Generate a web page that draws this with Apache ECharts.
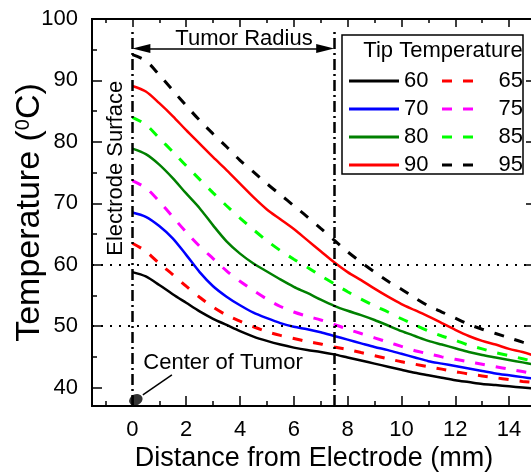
<!DOCTYPE html>
<html><head><meta charset="utf-8">
<script src="https://cdn.jsdelivr.net/npm/echarts@6/dist/echarts.min.js"></script>
<style>html,body{margin:0;padding:0;background:#fff}#c{width:531px;height:476px}</style>
</head><body><div id="c"></div>
<script>
// Distance from electrode (mm)
const distances = [0,0.5,1,1.5,2,2.5,3,3.5,4,4.5,5,5.5,6,6.5,7,7.5,8,8.5,9,9.5,10,10.5,11,11.5,12,12.5,13,13.5,14,14.5,15];
// Temperature (°C) for each tip temperature
const tip60 = [58.8,58.1,56.7,55.2,53.8,52.4,51.2,50.2,49.2,48.3,47.6,47.0,46.5,46.1,45.8,45.4,44.9,44.4,43.9,43.4,42.9,42.4,42.0,41.6,41.2,40.9,40.6,40.4,40.2,40.0,39.8];
const tip65 = [63.5,62.2,60.2,58.4,56.5,54.7,53.1,51.8,50.8,49.9,49.1,48.5,48.0,47.5,47.1,46.6,46.2,45.7,45.2,44.7,44.2,43.8,43.4,43.0,42.6,42.2,41.9,41.6,41.3,41.0,40.8];
const tip70 = [68.5,67.8,66.3,64.3,61.6,58.8,56.5,54.8,53.4,52.2,51.3,50.5,49.9,49.5,49.0,48.4,47.8,47.2,46.6,46.1,45.5,44.9,44.3,43.9,43.5,43.1,42.7,42.3,42.0,41.7,41.4];
const tip75 = [73.7,72.5,70.3,67.8,65.3,63.0,61.0,59.0,57.3,55.8,54.4,53.2,52.3,51.6,51.0,50.3,49.5,48.8,48.1,47.4,46.7,46.0,45.5,45.0,44.6,44.2,43.8,43.4,43.0,42.6,42.2];
const tip80 = [78.9,78.0,76.3,74.1,71.6,69.2,66.4,63.8,61.8,60.2,58.9,57.6,56.4,55.4,54.3,53.3,52.5,51.8,51.0,50.1,49.2,48.4,47.6,47.0,46.4,45.8,45.3,44.9,44.5,44.1,43.7];
const tip85 = [84.0,82.8,80.6,78.4,76.1,73.9,71.7,69.6,67.6,65.7,63.9,62.3,60.9,59.6,58.2,56.9,55.6,54.4,53.3,52.3,51.2,50.2,49.2,48.4,47.7,46.9,46.3,45.7,45.2,44.7,44.2];
const tip90 = [89.1,88.2,86.3,84.2,81.9,79.7,77.5,75.4,73.2,71.0,69.0,67.4,65.8,64.0,62.2,60.4,58.8,57.5,56.1,54.8,53.6,52.6,51.6,50.5,49.4,48.4,47.6,47.0,46.3,45.8,45.1];
const tip95 = [94.2,93.2,90.9,88.4,85.9,83.5,81.3,79.2,77.0,75.1,73.2,71.4,69.6,67.8,65.9,64.0,62.1,60.4,58.8,57.3,56.0,54.6,53.3,52.3,51.3,50.3,49.5,48.8,48.1,47.4,46.8];

const xMajorTicks = [0,2,4,6,8,10,12,14];
const xMinorTicks = [-1,1,3,5,7,9,11,13,15];
const yMajorTicks = [40,50,60,70,80,90,100];
const yMinorTicks = [45,55,65,75,85,95];
const solidNames = ['60','70','80','90'];
const dashedNames = ['65','75','85','95'];

const FONT = 'Liberation Sans, Arial, sans-serif';
const X_MIN = -1.5, X_MAX = 15, Y_MIN = 37, Y_MAX = 100;

function xAx(pos, ticks, len, labels, extra) {
  return Object.assign({
    type: 'value', min: X_MIN, max: X_MAX, position: pos,
    axisLine: {show: true, onZero: false, lineStyle: {color: '#000', width: 2}},
    axisTick: {show: true, inside: true, length: len, customValues: ticks, lineStyle: {color: '#000', width: 1.5}},
    axisLabel: {show: labels, customValues: ticks, fontSize: 22, color: '#000', margin: 13, fontFamily: FONT},
    splitLine: {show: false}
  }, extra || {});
}
function yAx(pos, ticks, len, labels, extra) {
  return Object.assign({
    type: 'value', min: Y_MIN, max: Y_MAX, position: pos,
    axisLine: {show: true, onZero: false, lineStyle: {color: '#000', width: 2}},
    axisTick: {show: true, inside: true, length: len, customValues: ticks, lineStyle: {color: '#000', width: 1.5}},
    axisLabel: {show: labels, customValues: ticks, fontSize: 22, color: '#000', margin: 14, fontFamily: FONT},
    splitLine: {show: false}
  }, extra || {});
}

function pairs(ys) { return distances.map((d, i) => [d, ys[i]]); }
function curve(name, ys, color, dashed) {
  return {
    name: name, type: 'line', data: pairs(ys), xAxisIndex: 0, yAxisIndex: 0,
    symbol: 'none', smooth: 0.3, z: 3,
    lineStyle: {color: color, width: dashed ? 3 : 2.5, type: dashed ? [10, 11] : 'solid'},
    itemStyle: {color: color}
  };
}

const chart = echarts.init(document.getElementById('c'), null, {renderer: 'canvas'});
const option = {
  animation: false,
  backgroundColor: '#fff',
  textStyle: {fontFamily: FONT},
  grid: {left: 92, top: 19, width: 444, height: 387, containLabel: false, outerBoundsMode: 'none'},
  xAxis: [
    xAx('bottom', xMajorTicks, 10, true, {
      name: 'Distance from Electrode (mm)', nameLocation: 'middle', nameGap: 39, nameMoveOverlap: false,
      nameTextStyle: {fontSize: 27, color: '#000', fontFamily: FONT}
    }),
    xAx('bottom', xMinorTicks, 5, false),
    xAx('top', xMajorTicks, 8, false),
    xAx('top', xMinorTicks, 4, false)
  ],
  yAxis: [
    yAx('left', yMajorTicks, 10, true, {
      name: 'Temperature ({s|0}C)', nameLocation: 'middle', nameGap: 45, nameMoveOverlap: false,
      nameTextStyle: {fontSize: 34, color: '#000', fontFamily: FONT,
        rich: {s: {fontSize: 20, verticalAlign: 'top', color: '#000', fontFamily: FONT}}}
    }),
    yAx('left', yMinorTicks, 5, false),
    yAx('right', yMajorTicks, 10, false),
    yAx('right', yMinorTicks, 5, false)
  ],
  legend: [
    {
      data: solidNames, orient: 'vertical', left: 349, top: 70, padding: 0,
      icon: 'rect', itemWidth: 50, itemHeight: 3, itemGap: 6, selectedMode: false, z: 6,
      itemStyle: {borderWidth: 0},
      textStyle: {fontSize: 22, color: '#000', fontFamily: FONT}
    },
    {
      data: dashedNames, orient: 'vertical', left: 442, top: 70, padding: 0,
      icon: 'path://M0,0h10v3h-10z M21,0h10v3h-10z',
      itemWidth: 31, itemHeight: 3, itemGap: 6, selectedMode: false, z: 6,
      itemStyle: {borderWidth: 0},
      formatter: n => '{a|' + n + '}',
      textStyle: {fontSize: 22, color: '#000', fontFamily: FONT,
        rich: {a: {width: 45, align: 'right', fontSize: 22, color: '#000', fontFamily: FONT}}}
    }
  ],
  graphic: [
    {type: 'rect', z: 5, shape: {x: 342, y: 35, width: 181, height: 139},
     style: {fill: '#fff', stroke: '#000', lineWidth: 1.5}},
    {type: 'text', z: 6, style: {text: 'Tip Temperature', x: 443, y: 51, align: 'center', verticalAlign: 'middle',
      fontSize: 22, fontFamily: FONT, fill: '#000'}}
  ],
  series: [
    // reference lines
    {
      type: 'line', data: [], xAxisIndex: 0, yAxisIndex: 0, z: 2, silent: true,
      markLine: {
        silent: true, symbol: ['none', 'none'], label: {show: false}, animation: false,
        data: [
          [{coord: [0, Y_MIN], lineStyle: {color: '#000', width: 2.5, type: [11, 4, 2, 4]}}, {coord: [0, 98.5]}],
          [{coord: [7.5, Y_MIN], lineStyle: {color: '#000', width: 2.5, type: [11, 4, 2, 4]}}, {coord: [7.5, 98.5]}],
          [{coord: [X_MIN, 60], lineStyle: {color: '#000', width: 2, type: [2, 7]}}, {coord: [X_MAX, 60]}],
          [{coord: [X_MIN, 50], lineStyle: {color: '#000', width: 2, type: [2, 7]}}, {coord: [X_MAX, 50]}],
          [{coord: [0.39, 38.8], lineStyle: {color: '#000', width: 1.5, type: 'solid'}}, {coord: [1.47, 42.05]}]
        ]
      }
    },
    // tumor radius arrow
    {
      type: 'line', data: [], xAxisIndex: 0, yAxisIndex: 0, z: 2, silent: true,
      markLine: {
        silent: true, symbol: ['triangle', 'triangle'], symbolSize: [9, 18], label: {show: false}, animation: false,
        lineStyle: {color: '#000', width: 1.5, type: 'solid'},
        itemStyle: {color: '#000'},
        data: [[{coord: [0.334, 95.2]}, {coord: [7.166, 95.2]}]]
      }
    },
    curve('60', tip60, '#000000', false),
    curve('65', tip65, '#ff0000', true),
    curve('70', tip70, '#0000ff', false),
    curve('75', tip75, '#ff00ff', true),
    curve('80', tip80, '#008000', false),
    curve('85', tip85, '#00ff00', true),
    curve('90', tip90, '#ff0000', false),
    curve('95', tip95, '#000000', true),
    // center of tumor marker
    {
      type: 'scatter', xAxisIndex: 0, yAxisIndex: 0, z: 4, clip: false, silent: true,
      data: [[0.13, 38.0]], symbol: 'circle', symbolSize: [14, 11], symbolRotate: 25,
      itemStyle: {color: '#000'}
    }
  ]
};
chart.setOption(option);

// text annotations placed through the chart's own coordinate system
const notes = [
  {text: 'Tumor Radius', at: [4.15, 96.8], rot: 0},
  {text: 'Electrode Surface', at: [-0.61, 75.7], rot: Math.PI / 2},
  {text: 'Center of Tumor', at: [3.37, 44.0], rot: 0}
];
const extra = notes.map(n => {
  const p = chart.convertToPixel({gridIndex: 0}, n.at);
  return {type: 'text', z: 6, x: p[0], y: p[1], rotation: n.rot,
    style: {text: n.text, x: 0, y: 0, align: 'center', verticalAlign: 'middle', fontSize: 22, fontFamily: FONT, fill: '#000'}};
});
chart.setOption({graphic: option.graphic.concat(extra)});
</script></body></html>
